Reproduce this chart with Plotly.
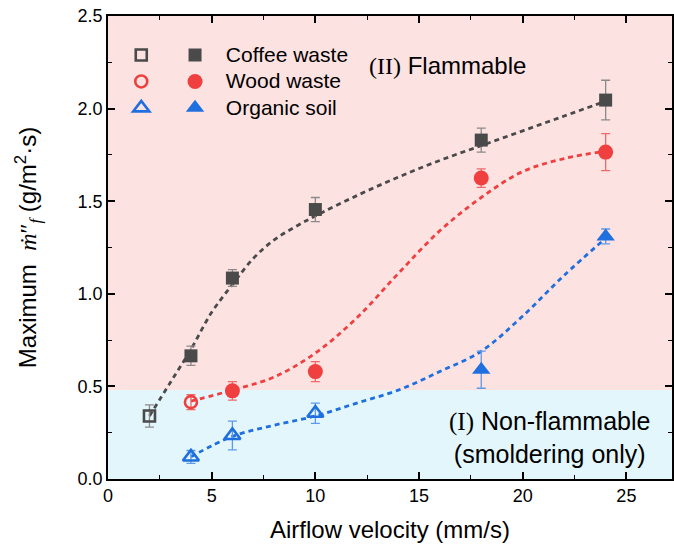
import plotly.graph_objects as go

# ---------------- data ----------------
coffee_x = [2, 4, 6, 10, 18, 24]
coffee_y = [0.34, 0.665, 1.085, 1.455, 1.83, 2.046]
coffee_err = [0.06, 0.052, 0.045, 0.065, 0.065, 0.107]
coffee_open = [True, False, False, False, False, False]

wood_x = [4, 6, 10, 18, 24]
wood_y = [0.415, 0.476, 0.58, 1.625, 1.765]
wood_err = [0.04, 0.05, 0.054, 0.05, 0.1]
wood_open = [True, False, False, False, False]

soil_x = [4, 6, 10, 18, 24]
soil_y = [0.119, 0.235, 0.355, 0.59, 1.31]
soil_err = [0.035, 0.078, 0.055, 0.1, 0.04]
soil_open = [True, True, True, False, False]

coffee_fit_x = [2, 3, 4, 5, 6, 7, 8, 9, 10, 12, 14, 16, 18, 20, 22, 24]
coffee_fit_y = [0.34, 0.52, 0.70, 0.90, 1.05, 1.19, 1.29, 1.36, 1.42, 1.53, 1.63, 1.72, 1.80, 1.88, 1.96, 2.04]
wood_fit_x = [4, 6, 8, 10, 12, 14, 16, 18, 20, 22, 24]
wood_fit_y = [0.42, 0.48, 0.55, 0.68, 0.87, 1.11, 1.34, 1.52, 1.66, 1.73, 1.77]
soil_fit_x = [4, 6, 8, 10, 12, 14, 16, 18, 20, 22, 24]
soil_fit_y = [0.12, 0.23, 0.29, 0.34, 0.41, 0.48, 0.58, 0.69, 0.88, 1.10, 1.30]

threshold = 0.48
x_range = [0, 27.2]
y_range = [0, 2.5]

series = [
    ("Coffee waste", coffee_x, coffee_y, coffee_err, coffee_open, coffee_fit_x, coffee_fit_y,
     "#4a4a4a", "#8a8a8a", "square", 13, 11),
    ("Wood waste", wood_x, wood_y, wood_err, wood_open, wood_fit_x, wood_fit_y,
     "#ef3f3f", "#f06868", "circle", 15, 12),
    ("Organic soil", soil_x, soil_y, soil_err, soil_open, soil_fit_x, soil_fit_y,
     "#1f6fde", "#5f9ae8", "triangle-up", 16, 14),
]

fig = go.Figure()

# background regions
fig.add_shape(type="rect", xref="x", yref="y", x0=x_range[0], x1=x_range[1], y0=0, y1=threshold,
              fillcolor="#e3f6fc", line_width=0, layer="below")
fig.add_shape(type="rect", xref="x", yref="y", x0=x_range[0], x1=x_range[1], y0=threshold, y1=y_range[1],
              fillcolor="#fde2e2", line_width=0, layer="below")

# fit lines
for name, xs, ys, es, op, fx, fy, col, ecol, sym, sz, osz in series:
    fig.add_trace(go.Scatter(x=fx, y=fy, mode="lines", line=dict(color=col, width=2.8, dash="5px,4px", shape="spline", smoothing=1.0),
                             showlegend=False, hoverinfo="skip"))

# open markers (legend 1) and filled markers (legend 2)
for name, xs, ys, es, op, fx, fy, col, ecol, sym, sz, osz in series:
    ox = [x for x, o in zip(xs, op) if o]
    oy = [y for y, o in zip(ys, op) if o]
    oe = [e for e, o in zip(es, op) if o]
    fxs = [x for x, o in zip(xs, op) if not o]
    fys = [y for y, o in zip(ys, op) if not o]
    fes = [e for e, o in zip(es, op) if not o]
    fig.add_trace(go.Scatter(
        x=ox, y=oy, mode="markers", name=" ", legend="legend",
        marker=dict(symbol=sym + "-open", size=osz, color=col, line=dict(width=2.6, color=col)),
        error_y=dict(type="data", array=oe, visible=True, color=ecol, thickness=1.3, width=4.5),
    ))
    fig.add_trace(go.Scatter(
        x=fxs, y=fys, mode="markers", name="<span style='font-size:21px'>\u00a0" + name + "</span>", legend="legend2",
        marker=dict(symbol=sym, size=sz, color=col, line=dict(width=0)),
        error_y=dict(type="data", array=fes, visible=True, color=ecol, thickness=1.3, width=4.5),
    ))

axis_common = dict(showline=True, linecolor="black", linewidth=1.6, mirror="ticks", ticks="inside",
                   ticklen=7, tickwidth=1.6, tickcolor="black", showgrid=False, zeroline=False,
                   tickfont=dict(size=18, color="black", family="Liberation Sans, Arial"))

fig.update_xaxes(range=x_range, dtick=5, tick0=0,
                 minor=dict(ticks="inside", ticklen=4, tickwidth=1.4, dtick=2.5, tickcolor="black", showgrid=False),
                 title=dict(text="Airflow velocity (mm/s)", font=dict(size=24, color="black"), standoff=16),
                 **axis_common)
fig.update_yaxes(range=y_range, dtick=0.5, tick0=0, tickformat=".1f",
                 minor=dict(ticks="inside", ticklen=4, tickwidth=1.4, dtick=0.25, tickcolor="black", showgrid=False),
                 title=dict(text="Maximum  <span style='font-family:Liberation Serif'><i>ṁ</i>″<sub><i>f</i></sub></span> (g/m<sup>2</sup>·s)",
                            font=dict(size=24, color="black"), standoff=34),
                 **axis_common)

fig.add_annotation(x=12.5, y=2.235, xref="x", yref="y", xanchor="left", yanchor="middle", showarrow=False,
                   text="<span style='font-family:Liberation Serif'>(II)</span> Flammable",
                   font=dict(size=24, color="black"))
fig.add_annotation(x=21.3, y=0.225, xref="x", yref="y", xanchor="center", yanchor="middle", showarrow=False,
                   text="<span style='font-family:Liberation Serif'>(I)</span> Non-flammable<br>(smoldering only)",
                   font=dict(size=25, color="black"))

legend_common = dict(bgcolor="rgba(0,0,0,0)", borderwidth=0, font=dict(size=18, color="black"),
                     xanchor="left", yanchor="top", yref="paper", xref="paper", tracegroupgap=0)
fig.update_layout(
    width=674, height=550,
    margin=dict(l=108, r=0, t=16, b=71),
    paper_bgcolor="white", plot_bgcolor="white",
    font=dict(family="Liberation Sans, Arial", color="black"),
    legend=dict(x=0.0235, y=0.955, itemwidth=30, **legend_common),
    legend2=dict(x=0.110, y=0.955, itemwidth=40, **legend_common),
)

fig.write_html("out.html", config={"displayModeBar": False},
               post_script="document.body.style.margin='0';")
